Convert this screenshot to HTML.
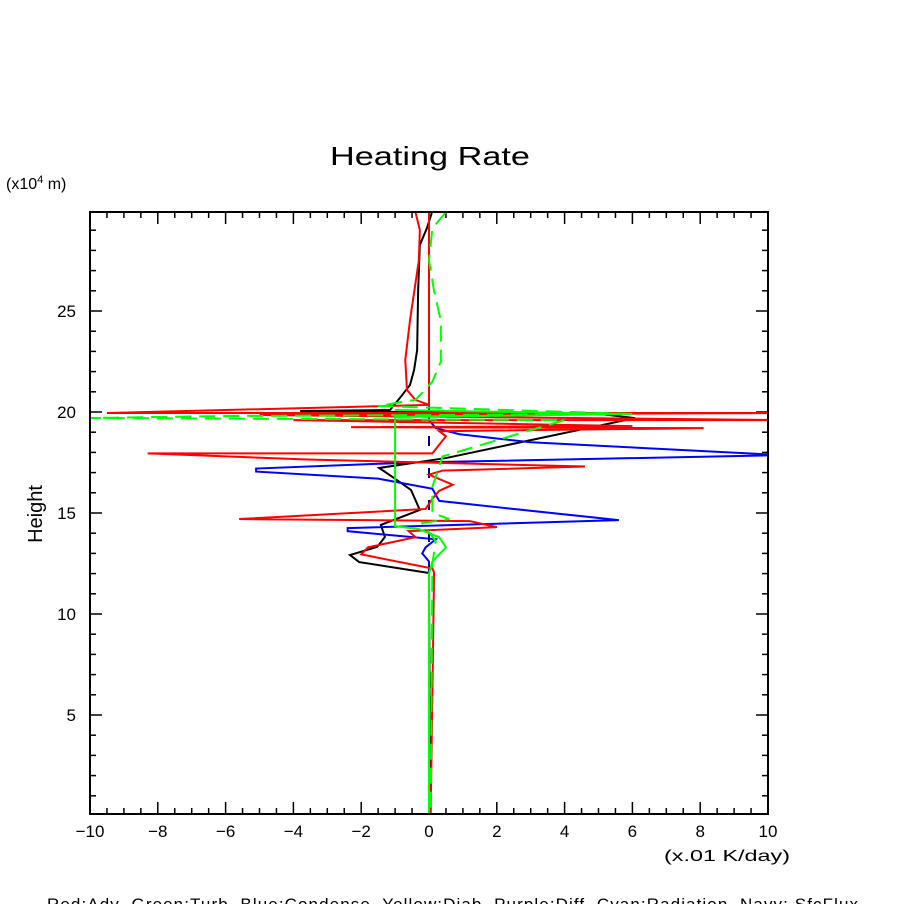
<!DOCTYPE html>
<html><head><meta charset="utf-8"><style>
body{margin:0;background:#fff;}
svg{display:block;font-family:"Liberation Sans",sans-serif;}
</style></head><body>
<svg id="c" width="904" height="904" viewBox="0 0 904 904">
<text x="330" y="165" font-size="26" textLength="200" lengthAdjust="spacingAndGlyphs">Heating Rate</text>
<text x="6" y="189" font-size="16">(x10<tspan font-size="11" dy="-6">4</tspan><tspan dy="6"> m)</tspan></text>
<text transform="translate(42,514) rotate(-90)" font-size="20" text-anchor="middle">Height</text>
<text x="664" y="861" font-size="16" textLength="126" lengthAdjust="spacingAndGlyphs">(x.01 K/day)</text>
<text x="47" y="910" font-size="17" textLength="811" lengthAdjust="spacing" xml:space="preserve">Red:Adv  Green:Turb  Blue:Condense  Yellow:Diab  Purple:Diff  Cyan:Radiation  Navy: SfcFlux</text>
<g id="ticks"></g>
<defs><clipPath id="pc"><rect x="90" y="212" width="678" height="602"/></clipPath></defs>
<g id="series" clip-path="url(#pc)"></g>
<rect x="90" y="212" width="678" height="602" fill="none" stroke="#000" stroke-width="2"/>
</svg>
<script>
const xTicks=[-10,-8,-6,-4,-2,0,2,4,6,8,10];
const yTicks=[5,10,15,20,25];
const blackH=[29.9,29.11,28.27,26.04,23.07,22.08,21.34,20.69,20.1,20.05,19.9,19.7,17.72,17.23,16.73,16.14,15.15,14.41,13.81,13.32,12.92,12.57,12.03,0.1];
const blackX=[0.09,-0.06,-0.27,-0.32,-0.35,-0.44,-0.56,-0.86,-1.15,-3.8,5.04,6.08,0.5,-1.47,-1.03,-0.53,-0.27,-1.42,-1.3,-1.53,-2.33,-2.06,0,0.03];
const redH=[29.9,29.0,27.5,24.55,22.57,21.09,20.6,20.35,19.95,19.95,19.85,19.6,19.6,19.3,19.25,19.2,19.05,18.8,17.95,17.95,17.65,17.3,17.1,16.9,16.4,16.1,15.7,15.2,14.7,14.6,14.3,14.1,13.8,13.3,12.95,12.25,12.05,0.1];
const redX=[-0.4,-0.27,-0.3,-0.56,-0.7,-0.65,-0.4,0,-9.5,10.5,-5,10.5,-4,6,-2.3,8.1,0.3,0.5,0.1,-8.3,-3.6,4.6,0.4,0.0,0.7,0.3,0.1,-0.1,-5.6,1.2,2.0,-0.6,-0.4,-1.8,-2.0,0.1,0.15,0.05];
const blueH=[29.9,19.6,19.2,18.9,18.5,17.9,17.85,17.5,17.2,17.05,16.7,16.2,15.6,15.2,14.65,14.25,14.1,13.7,13.3,13.0,12.6,12.0,0.1];
const blueX=[0,0,0.2,0.9,3,10,10,-0.5,-5.1,-5.1,-1.5,0.1,0.3,2.5,5.6,-2.4,-2.4,0.2,-0.1,-0.2,0,0,0];
const greenH=[20.1,19.9,19.75,19.7,19.6,14.35,14.2,13.8,13.3,12.6,12.0,0.1];
const greenX=[-1.0,5.9,-1.0,-1.0,-1.0,-1.0,-0.3,0.3,0.5,0.1,0,0];
const gdashH=[29.9,29.1,27.5,26.0,24.5,22.5,21.5,20.6,20.3,19.9,19.8,19.7,19.6,17.8,16.3,15.0,14.7,14.5,13.6,12.5,0.1];
const gdashX=[0.5,0.1,0.0,0.15,0.35,0.35,0.1,-0.4,-1.5,6.0,-6.0,-10,4.0,0.4,0.1,0.1,0.6,-0.2,0.2,0.1,0.05];
const xs=v=>429+v*33.9, ys=h=>816-h*20.2;
const NS='http://www.w3.org/2000/svg';
const tg=document.getElementById('ticks'), sg=document.getElementById('series');
function ln(x1,y1,x2,y2,g,nm){const l=document.createElementNS(NS,'line');
l.setAttribute('x1',x1);l.setAttribute('y1',y1);l.setAttribute('x2',x2);l.setAttribute('y2',y2);
l.setAttribute('stroke','#000');l.setAttribute('stroke-width','1.5');


g.appendChild(l);}
for(let v=-10;v<=10.001;v+=0.5){const x=xs(v);const maj=Math.abs(v%2)<1e-6;const L=maj?12:6;
ln(x,814,x,814-L,tg,'x-tick');ln(x,212,x,212+L,tg,'x-tick-top');}
for(let h=1;h<=29;h++){const y=ys(h);const maj=h%5===0;const L=maj?12:6;
ln(90,y,90+L,y,tg,'y-tick');ln(768,y,768-L,y,tg,'y-tick-right');}
xTicks.forEach(v=>{const t=document.createElementNS(NS,'text');t.setAttribute('x',xs(v));t.setAttribute('y',837);
t.setAttribute('font-size','17');t.setAttribute('text-anchor','middle');t.textContent=(v<0?'\u2212'+(-v):v);


tg.appendChild(t);});
yTicks.forEach(v=>{const t=document.createElementNS(NS,'text');t.setAttribute('x',76);t.setAttribute('y',ys(v)+6);
t.setAttribute('font-size','17');t.setAttribute('text-anchor','end');t.textContent=v;


tg.appendChild(t);});
function series(H,X,col,nm,dash){const p=document.createElementNS(NS,'polyline');
p.setAttribute('points',H.map((h,i)=>xs(X[i])+','+ys(h)).join(' '));
p.setAttribute('fill','none');p.setAttribute('stroke',col);p.setAttribute('stroke-width','2');
if(dash)p.setAttribute('stroke-dasharray',dash);


sg.appendChild(p);}
series(blackH,blackX,'#000','black-total-line');
series(blueH,blueX,'#00f','blue-condense-line');
series([29.9,0.1],[0,0],'#000080','navy-sfcflux-line','10 22');
series([29.9,20.3],[0,0],'#f00','red-zero-line');
series(redH,redX,'#f00','red-adv-line');
series(greenH,greenX,'#0f0','green-turb-line');
series(gdashH,gdashX,'#0f0','green-dashed-line','16 8');
</script>
</body></html>
